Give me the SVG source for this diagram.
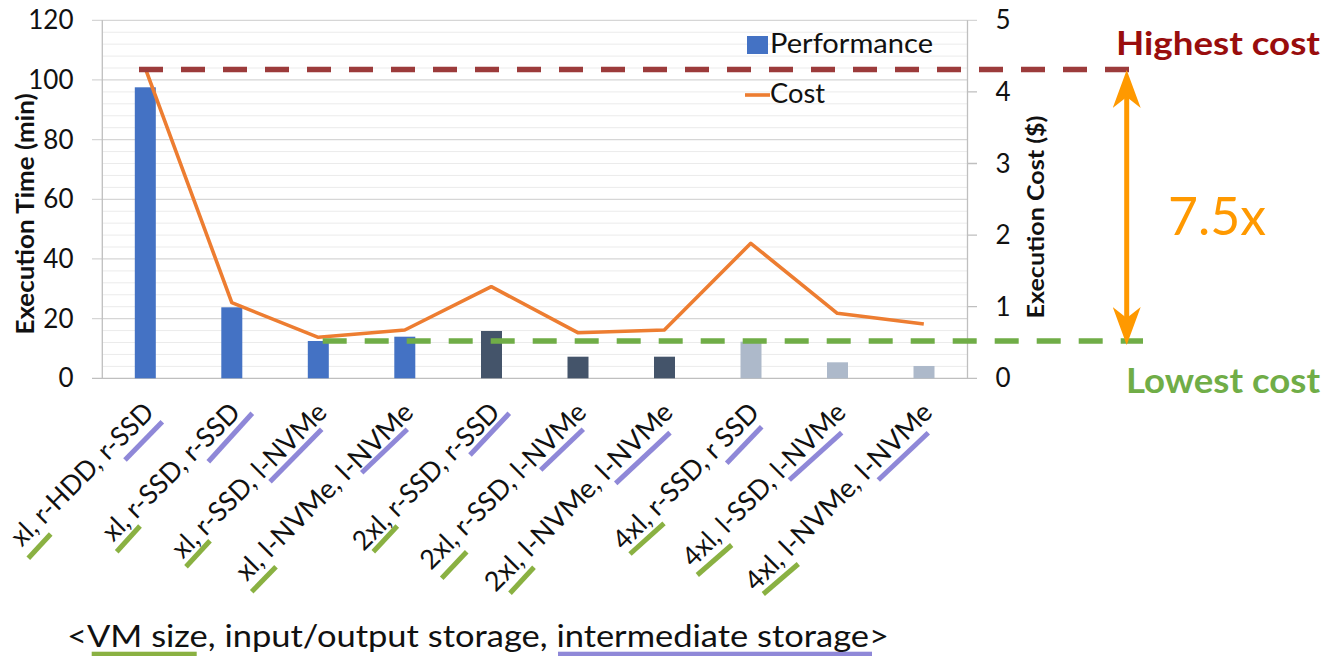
<svg xmlns="http://www.w3.org/2000/svg" width="1335" height="656" viewBox="0 0 1335 656">
  <defs>
    <style>
      text { font-family: Lato, "Liberation Sans", sans-serif; }
      .tick { font-size: 26px; fill: #111; }
      .title { font-weight: bold; fill: #111; }
      .legend { font-size: 26px; fill: #111; }
      .cat { font-size: 27px; fill: #111; }
      .grid-minor { stroke: #EBEBEB; stroke-width: 1; fill: none; }
      .grid-major { stroke: #D6D6D6; stroke-width: 1.2; fill: none; }
      .axis { stroke: #BFBFBF; stroke-width: 1.3; fill: none; }
      .bar-a { fill: #4472C4; }
      .bar-b { fill: #44546A; }
      .bar-c { fill: #ADB9CA; }
      .cost { stroke: #ED7D31; stroke-width: 3.6; fill: none; stroke-linejoin: round; }
      .ul-vm { stroke: #8AB142; stroke-width: 5; }
      .ul-im { stroke: #8F88D8; stroke-width: 5; }
      .dash-hi { stroke: #9C3B3B; stroke-width: 5.5; stroke-dasharray: 24 18; fill: none; }
      .dash-lo { stroke: #70AD47; stroke-width: 5.5; stroke-dasharray: 24 18; fill: none; }
    </style>
    <marker id="head" viewBox="0 0 38 28" refX="11" refY="14" markerWidth="38" markerHeight="28" markerUnits="userSpaceOnUse" orient="auto-start-reverse">
      <path d="M0,0 L38,14 L0,28 L11,14 Z" fill="#FF9900"/>
    </marker>
  </defs>

  <rect width="1335" height="656" fill="#FFFFFF"/>

  <!-- gridlines: minor every 4 min, major every 20 min -->
  <g id="gridlines">
    <path class="grid-minor" d="M102 366.37H967M102 354.43H967M102 342.5H967M102 330.57H967M102 306.7H967M102 294.77H967M102 282.83H967M102 270.9H967M102 247.03H967M102 235.1H967M102 223.17H967M102 211.23H967M102 187.37H967M102 175.43H967M102 163.5H967M102 151.57H967M102 127.7H967M102 115.77H967M102 103.83H967M102 91.9H967M102 68.03H967M102 56.1H967M102 44.17H967M102 32.23H967"/>
    <path class="grid-major" d="M92 318.63H967M92 258.97H967M92 199.3H967M92 139.63H967M92 79.97H967M92 20.3H977"/>
  </g>

  <!-- axes and ticks -->
  <g id="axes">
    <path class="axis" d="M102.3 20.3V378.3M967.5 20.3V378.3M92 378.3H977"/>
    <path class="axis" d="M967.5 306.7H977M967.5 235.1H977M967.5 163.5H977M967.5 91.9H977"/>
  </g>

  <g id="left-ticks" class="tick" text-anchor="end">
    <text x="73.5" y="387.3">0</text>
    <text x="73.5" y="327.6">20</text>
    <text x="73.5" y="268">40</text>
    <text x="73.5" y="208.3">60</text>
    <text x="73.5" y="148.6">80</text>
    <text x="73.5" y="89">100</text>
    <text x="73.5" y="29.3">120</text>
  </g>
  <g id="right-ticks" class="tick" text-anchor="start">
    <text x="995.5" y="387.3">0</text>
    <text x="995.5" y="315.7">1</text>
    <text x="995.5" y="244.1">2</text>
    <text x="995.5" y="172.5">3</text>
    <text x="995.5" y="100.9">4</text>
    <text x="995.5" y="29.3">5</text>
  </g>

  <text id="y-title-left" class="title" font-size="24" text-anchor="middle" transform="translate(33.5,214) rotate(-90)" textLength="241" lengthAdjust="spacingAndGlyphs">Execution Time (min)</text>
  <text id="y-title-right" class="title" font-size="23" text-anchor="middle" transform="translate(1044,217) rotate(-90)" textLength="203" lengthAdjust="spacingAndGlyphs">Execution Cost ($)</text>

  <!-- performance bars -->
  <g id="bars">
    <rect class="bar-a" x="134.8" y="87.3" width="21" height="291"/>
    <rect class="bar-a" x="221.3" y="307.3" width="21" height="71"/>
    <rect class="bar-a" x="307.8" y="341" width="21" height="37.3"/>
    <rect class="bar-a" x="394.3" y="336.7" width="21" height="41.6"/>
    <rect class="bar-b" x="481" y="331" width="21" height="47.3"/>
    <rect class="bar-b" x="567.5" y="356.7" width="21" height="21.6"/>
    <rect class="bar-b" x="654" y="356.7" width="21" height="21.6"/>
    <rect class="bar-c" x="740.5" y="341.7" width="21" height="36.6"/>
    <rect class="bar-c" x="827" y="362.3" width="21" height="16"/>
    <rect class="bar-c" x="913.5" y="366" width="21" height="12.3"/>
  </g>

  <!-- cost series -->
  <polyline id="cost-line" class="cost" points="145.7,69.3 231.8,302.7 318.3,337.3 404.8,330 491.3,286.7 577.8,332.7 664.3,330 750.8,243.3 837.3,313.3 923.8,324"/>

  <!-- legend -->
  <g id="legend">
    <rect x="747" y="36" width="21" height="18" fill="#4472C4"/>
    <text class="legend" x="770" y="53.3" textLength="163" lengthAdjust="spacingAndGlyphs">Performance</text>
    <line x1="745" y1="95" x2="770" y2="95" stroke="#ED7D31" stroke-width="3.6"/>
    <text class="legend" x="770" y="103.3" textLength="55" lengthAdjust="spacingAndGlyphs">Cost</text>
  </g>

  <!-- category labels: &lt;VM size, input/output storage, intermediate storage&gt; -->
  <g id="categories" class="cat" text-anchor="end">
    <text transform="translate(155.5,414) rotate(-45)" textLength="189" lengthAdjust="spacingAndGlyphs">xl, r-HDD, r-SSD</text>
    <text transform="translate(242,414) rotate(-45)" textLength="182" lengthAdjust="spacingAndGlyphs">xl, r-SSD, r-SSD</text>
    <text transform="translate(328.5,414) rotate(-45)" textLength="206" lengthAdjust="spacingAndGlyphs">xl, r-SSD, l-NVMe</text>
    <text transform="translate(415,414) rotate(-45)" textLength="238" lengthAdjust="spacingAndGlyphs">xl, l-NVMe, l-NVMe</text>
    <text transform="translate(501.5,414) rotate(-45)" textLength="195" lengthAdjust="spacingAndGlyphs">2xl, r-SSD, r-SSD</text>
    <text transform="translate(588,414) rotate(-45)" textLength="222" lengthAdjust="spacingAndGlyphs">2xl, r-SSD, l-NVMe</text>
    <text transform="translate(674.5,414) rotate(-45)" textLength="253" lengthAdjust="spacingAndGlyphs">2xl, l-NVMe, l-NVMe</text>
    <text transform="translate(761,414) rotate(-45)" textLength="194" lengthAdjust="spacingAndGlyphs">4xl, r-SSD, r SSD</text>
    <text transform="translate(847.5,414) rotate(-45)" textLength="218" lengthAdjust="spacingAndGlyphs">4xl, l-SSD, l-NVMe</text>
    <text transform="translate(934,414) rotate(-45)" textLength="252" lengthAdjust="spacingAndGlyphs">4xl, l-NVMe, l-NVMe</text>
  </g>

  <!-- underline marks: VM size (green) and intermediate storage (purple) -->
  <g id="underlines">
    <line class="ul-im" x1="125" y1="460" x2="162.3" y2="421.7"/>
    <line class="ul-im" x1="208.3" y1="461.7" x2="252.3" y2="413.3"/>
    <line class="ul-im" x1="270" y1="481.7" x2="321.7" y2="429.3"/>
    <line class="ul-im" x1="361.7" y1="472.7" x2="407.3" y2="429.3"/>
    <line class="ul-im" x1="470" y1="455" x2="509.3" y2="413.3"/>
    <line class="ul-im" x1="540.7" y1="470" x2="583.3" y2="429.3"/>
    <line class="ul-im" x1="615.7" y1="483.3" x2="670" y2="432.7"/>
    <line class="ul-im" x1="726.7" y1="463.3" x2="761.7" y2="426.7"/>
    <line class="ul-im" x1="789.3" y1="480" x2="841.7" y2="432.7"/>
    <line class="ul-im" x1="878.3" y1="480" x2="928.3" y2="432.7"/>
    <line class="ul-vm" x1="28.3" y1="558.3" x2="50.7" y2="534"/>
    <line class="ul-vm" x1="116.7" y1="551.7" x2="140" y2="526"/>
    <line class="ul-vm" x1="186" y1="566.7" x2="210" y2="540.7"/>
    <line class="ul-vm" x1="251.7" y1="591.7" x2="276" y2="566.7"/>
    <line class="ul-vm" x1="373.3" y1="551.7" x2="397.3" y2="526"/>
    <line class="ul-vm" x1="441.7" y1="578.3" x2="466.7" y2="551.7"/>
    <line class="ul-vm" x1="510" y1="593.3" x2="534" y2="567.3"/>
    <line class="ul-vm" x1="630" y1="554" x2="664" y2="523.3"/>
    <line class="ul-vm" x1="697.3" y1="575" x2="731.7" y2="545"/>
    <line class="ul-vm" x1="763.3" y1="594" x2="798.3" y2="564"/>
    <rect x="91.7" y="651.7" width="105" height="5" fill="#8AB142"/>
    <rect x="558" y="651.7" width="314" height="5" fill="#8F88D8"/>
  </g>

  <!-- highest / lowest cost reference lines and ratio arrow -->
  <g id="connectors">
    <line class="dash-hi" x1="139" y1="69.5" x2="1130" y2="69.5"/>
    <line class="dash-lo" x1="322.7" y1="341" x2="1143" y2="341"/>
    <line x1="1126.7" y1="318" x2="1126.7" y2="97" stroke="#FF9900" stroke-width="5" marker-start="url(#head)" marker-end="url(#head)"/>
  </g>

  <g id="annotations">
    <text x="1116" y="55" font-size="33" font-weight="bold" fill="#990D0D" textLength="204" lengthAdjust="spacingAndGlyphs">Highest cost</text>
    <text x="1168" y="235" font-size="53" fill="#FF9900" textLength="98" lengthAdjust="spacingAndGlyphs">7.5x</text>
    <text x="1126" y="393.3" font-size="34" font-weight="bold" fill="#70AD47" textLength="194" lengthAdjust="spacingAndGlyphs">Lowest cost</text>
  </g>

  <text id="caption" x="67" y="647" font-size="30" fill="#111" textLength="822" lengthAdjust="spacingAndGlyphs">&lt;VM size, input/output storage, intermediate storage&gt;</text>
</svg>
